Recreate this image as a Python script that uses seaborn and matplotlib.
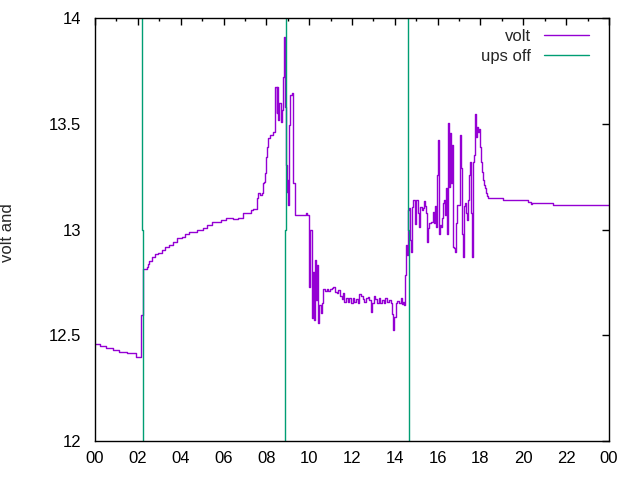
import matplotlib
matplotlib.use("Agg")
import matplotlib.pyplot as plt
from matplotlib.lines import Line2D
import seaborn as sns
import pandas as pd

# ---- data (hours of day, volts) ----
volt_time = [
    0.000, 0.233, 0.514, 0.840, 1.121, 1.508, 1.900, 2.148, 2.255, 2.414,
    2.489, 2.535, 2.661, 2.802, 2.956, 3.114, 3.269, 3.455, 3.628, 3.843,
    4.048, 4.202, 4.403, 4.749, 5.057, 5.244, 5.449, 5.883, 6.117, 6.458,
    6.691, 6.925, 7.284, 7.391, 7.550, 7.625, 7.704, 7.784, 7.830, 7.891,
    7.938, 7.985, 8.045, 8.092, 8.171, 8.325, 8.405, 8.475, 8.521, 8.559,
    8.606, 8.671, 8.719, 8.766, 8.826, 8.873, 8.920, 8.953, 8.981, 9.028,
    9.074, 9.105, 9.186, 9.232, 9.260, 9.340, 9.853, 9.914, 9.992, 10.053,
    10.118, 10.165, 10.212, 10.258, 10.305, 10.366, 10.427, 10.473, 10.539, 10.585,
    10.632, 10.660, 10.739, 10.819, 10.893, 10.973, 11.052, 11.127, 11.206, 11.286,
    11.360, 11.440, 11.519, 11.566, 11.641, 11.720, 11.800, 11.874, 11.953, 12.033,
    12.108, 12.187, 12.266, 12.341, 12.420, 12.500, 12.575, 12.654, 12.733, 12.808,
    12.887, 12.948, 13.013, 13.088, 13.167, 13.247, 13.322, 13.401, 13.480, 13.555,
    13.634, 13.714, 13.807, 13.882, 13.929, 13.975, 14.041, 14.115, 14.195, 14.274,
    14.335, 14.396, 14.442, 14.489, 14.522, 14.568, 14.629, 14.676, 14.723, 14.769,
    14.816, 14.863, 14.928, 14.975, 15.096, 15.143, 15.190, 15.283, 15.330, 15.376,
    15.423, 15.470, 15.516, 15.563, 15.610, 15.657, 15.703, 15.797, 15.843, 15.890,
    15.937, 15.984, 16.030, 16.077, 16.124, 16.170, 16.217, 16.264, 16.310, 16.357,
    16.404, 16.450, 16.497, 16.544, 16.576, 16.623, 16.656, 16.702, 16.730, 16.777,
    16.824, 16.870, 16.917, 17.057, 17.104, 17.150, 17.197, 17.244, 17.290, 17.337,
    17.384, 17.431, 17.477, 17.524, 17.571, 17.617, 17.664, 17.711, 17.757, 17.804,
    17.851, 17.897, 17.944, 17.991, 18.037, 18.084, 18.131, 18.177, 18.224, 18.271,
    18.317, 18.364, 18.411, 19.065, 20.233, 20.345, 20.392, 21.400, 24.000,
]
volt_value = [
    12.457, 12.448, 12.438, 12.429, 12.419, 12.415, 12.396, 12.596, 12.813, 12.824,
    12.837, 12.850, 12.871, 12.883, 12.890, 12.903, 12.916, 12.928, 12.942, 12.958,
    12.966, 12.977, 12.987, 12.998, 13.009, 13.021, 13.034, 13.045, 13.056, 13.048,
    13.056, 13.077, 13.091, 13.098, 13.147, 13.174, 13.163, 13.171, 13.218, 13.226,
    13.266, 13.344, 13.392, 13.434, 13.447, 13.462, 13.672, 13.550, 13.672, 13.518,
    13.597, 13.510, 13.565, 13.722, 13.912, 13.580, 13.305, 13.179, 13.234, 13.116,
    13.494, 13.636, 13.644, 13.502, 13.218, 13.069, 13.077, 13.069, 12.730, 12.998,
    12.580, 12.800, 12.572, 12.856, 12.667, 12.832, 12.556, 12.643, 12.604, 12.651,
    12.698, 12.717, 12.711, 12.717, 12.709, 12.717, 12.725, 12.730, 12.706, 12.698,
    12.714, 12.686, 12.670, 12.698, 12.659, 12.675, 12.659, 12.675, 12.654, 12.675,
    12.659, 12.670, 12.651, 12.695, 12.686, 12.670, 12.659, 12.675, 12.679, 12.667,
    12.611, 12.651, 12.686, 12.670, 12.651, 12.675, 12.651, 12.667, 12.654, 12.675,
    12.659, 12.667, 12.651, 12.600, 12.525, 12.588, 12.654, 12.664, 12.654, 12.675,
    12.648, 12.659, 12.643, 12.785, 12.927, 12.879, 13.090, 13.100, 12.950, 12.895,
    13.108, 13.140, 13.026, 13.140, 13.077, 13.013, 13.108, 13.092, 13.100, 13.136,
    13.111, 13.079, 12.942, 13.006, 13.029, 13.032, 13.037, 13.084, 13.029, 13.111,
    13.013, 13.258, 13.423, 12.981, 13.021, 13.013, 13.053, 13.124, 13.140, 13.069,
    13.195, 12.981, 13.502, 13.203, 13.455, 13.218, 13.400, 13.329, 12.919, 12.911,
    12.895, 13.029, 13.116, 13.447, 13.289, 12.981, 12.871, 13.111, 13.124, 13.077,
    13.045, 13.140, 13.258, 13.321, 13.077, 12.871, 13.321, 13.352, 13.546, 13.439,
    13.486, 13.462, 13.473, 13.392, 13.321, 13.273, 13.234, 13.210, 13.195, 13.171,
    13.158, 13.150, 13.147, 13.140, 13.132, 13.120, 13.124, 13.114, 13.114,
]

# UPS-off events: each event is a vertical pulse (drawn off-scale below/above)
ups_event = [1, 1, 1, 1, 2, 2, 2, 2, 3, 3, 3, 3]
ups_time = [2.230, 2.230, 2.180, 2.180,
            8.860, 8.860, 8.910, 8.910,
            14.670, 14.670, 14.620, 14.620]
ups_value = [11.0, 13.0, 13.0, 15.0,
             11.0, 13.0, 13.0, 15.0,
             11.0, 13.0, 13.0, 15.0]

x_ticks = [0, 2, 4, 6, 8, 10, 12, 14, 16, 18, 20, 22, 24]
x_tick_labels = ["00", "02", "04", "06", "08", "10", "12", "14", "16", "18", "20", "22", "00"]
y_ticks = [12.0, 12.5, 13.0, 13.5, 14.0]
y_tick_labels = ["12", "12.5", "13", "13.5", "14"]

VOLT_COLOR = "#9400d3"
UPS_COLOR = "#009e73"

sns.set_style("white")
plt.rcParams["font.family"] = ["Liberation Sans", "DejaVu Sans"]

fig = plt.figure(figsize=(6.4, 4.8), dpi=100)
ax = fig.add_axes([95 / 640, 1 - 441 / 480, 514 / 640, 423 / 480])

volt_df = pd.DataFrame({"t": volt_time, "v": volt_value})
ups_df = pd.DataFrame({"t": ups_time, "v": ups_value, "ev": ups_event})

sns.lineplot(data=volt_df, x="t", y="v", ax=ax, color=VOLT_COLOR,
             drawstyle="steps-post", estimator=None, sort=False,
             linewidth=1.0, legend=False)
sns.lineplot(data=ups_df, x="t", y="v", units="ev", ax=ax, color=UPS_COLOR,
             estimator=None, sort=False, linewidth=1.0, legend=False)

ax.set_xlim(0, 24)
ax.set_ylim(12, 14)
ax.set_xticks(x_ticks)
ax.set_xticklabels(x_tick_labels)
ax.set_xticks(range(1, 24, 2), minor=True)
ax.set_yticks(y_ticks)
ax.set_yticklabels(y_tick_labels)

for s in ax.spines.values():
    s.set_visible(True)
    s.set_color("black")
    s.set_linewidth(1.0)

FS = 12
ax.tick_params(axis="both", which="both", direction="in", top=True, right=True,
               colors="black", labelsize=FS, width=1.0)
ax.tick_params(axis="both", which="major", length=5)
ax.tick_params(axis="x", which="minor", length=2.5)
ax.tick_params(axis="x", which="major", pad=7)
ax.tick_params(axis="y", which="major", pad=10)

ax.set_xlabel("")
ax.set_ylabel("volt and", fontsize=FS)
ax.yaxis.set_label_coords((15 - 95) / 514, (441 - 233) / 423)

handles = [Line2D([], [], color=VOLT_COLOR, lw=1.0),
           Line2D([], [], color=UPS_COLOR, lw=1.0)]
ax.legend(handles, ["volt", "ups off"], loc="upper right", frameon=False,
          markerfirst=False, fontsize=FS, handlelength=2.7, handletextpad=0.8,
          labelspacing=0.3, borderaxespad=0.0,
          bbox_to_anchor=((589 - 95) / 514 + 0.013, (441 - 22) / 423))

fig.savefig("out.png", dpi=100)
